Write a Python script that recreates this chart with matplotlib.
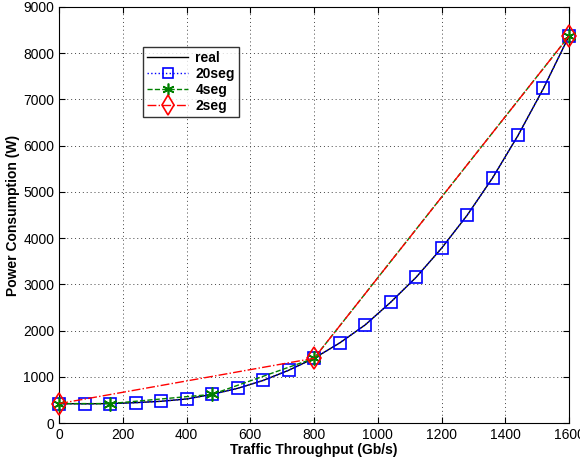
import numpy as np
import matplotlib
matplotlib.use('Agg')
from matplotlib import pyplot as plt

plt.rcParams['font.family'] = ['Liberation Sans', 'DejaVu Sans']

# traffic throughput (Gb/s) and power (W)
x_real = [0, 80, 160, 240, 320, 400, 480, 560, 640, 720, 800,
          880, 960, 1040, 1120, 1200, 1280, 1360, 1440, 1520, 1600]
y_real = [420, 415, 420, 440, 470, 520, 620, 750, 920, 1140, 1400,
          1730, 2120, 2610, 3150, 3780, 4490, 5300, 6220, 7240, 8370]

x_20seg = x_real
y_20seg = y_real

x_4seg = [0, 160, 480, 800, 1600]
y_4seg = [420, 420, 620, 1400, 8370]

x_2seg = [0, 800, 1600]
y_2seg = [420, 1400, 8370]

fig = plt.figure(figsize=(5.8, 4.62), dpi=100)
ax = fig.add_axes([0.102, 0.0844, 0.879, 0.9005])

ax.plot(x_real, y_real, '-', color='black', lw=1.0, label='real', zorder=3)
ax.plot(x_20seg, y_20seg, ':', color='blue', lw=1.0, marker='s', ms=9,
        mfc='none', mec='blue', mew=1.2, label='20seg', clip_on=False, zorder=4)
ax.plot(x_4seg, y_4seg, '--', color='green', lw=1.0, marker=(6, 2, 0), ms=10,
        mec='green', mew=1.2, label='4seg', clip_on=False, zorder=5)
ax.plot(x_2seg, y_2seg, '-.', color='red', lw=1.0, marker='d', ms=11.5,
        mfc='none', mec='red', mew=1.2, label='2seg', clip_on=False, zorder=6)

ax.set_xlim(0, 1600)
ax.set_ylim(0, 9000)
ax.set_xticks(np.arange(0, 1601, 200))
ax.set_yticks(np.arange(0, 9001, 1000))
ax.tick_params(direction='in', top=True, right=True, labelsize=10, length=4)
ax.grid(True, linestyle=(0, (1, 3)), color='#444444', lw=0.7)

ax.set_xlabel('Traffic Throughput (Gb/s)', fontsize=10, fontweight='bold', labelpad=1)
ax.set_ylabel('Power Consumption (W)', fontsize=10, fontweight='bold', labelpad=2)

leg = ax.legend(loc='upper left', bbox_to_anchor=(0.15, 0.921), fancybox=False,
                edgecolor='black', prop={'weight': 'bold', 'size': 10},
                handlelength=3.0, borderpad=0.3, labelspacing=0.15,
                handletextpad=0.5, markerscale=0.85)
leg.get_frame().set_linewidth(1.0)

plt.savefig('out.png', dpi=100)
